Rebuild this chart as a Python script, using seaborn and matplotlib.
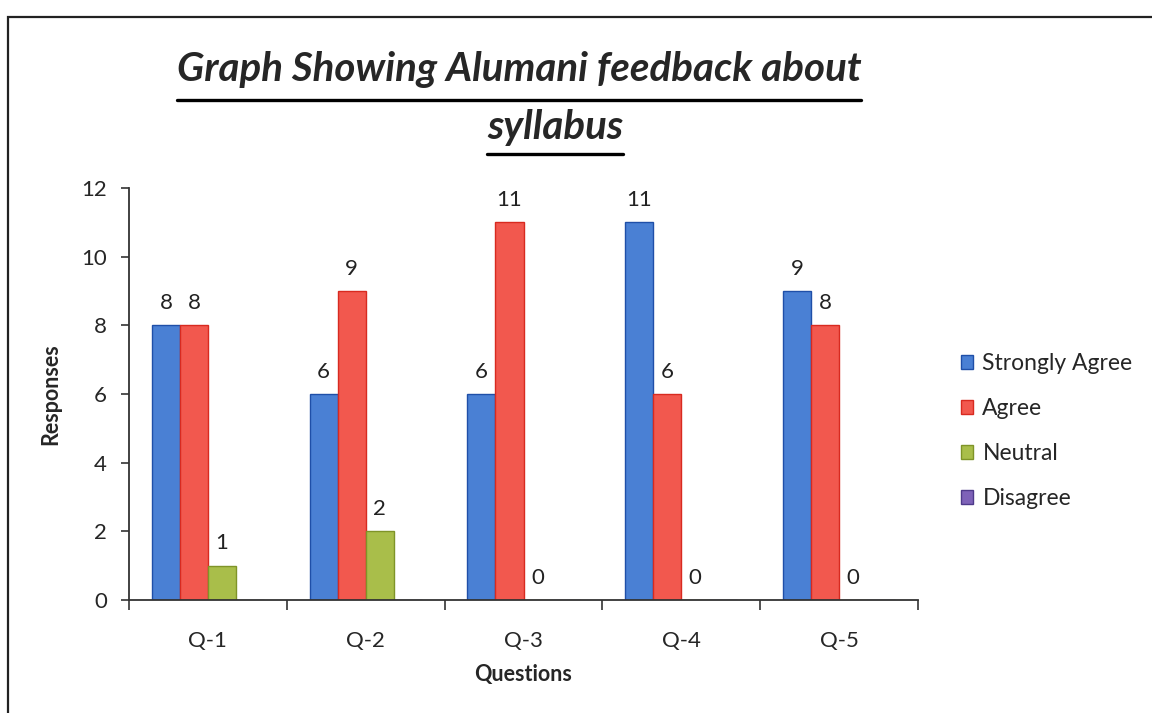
import pandas as pd
import matplotlib.pyplot as plt
import matplotlib.patches as mpatches
from matplotlib.lines import Line2D
import seaborn as sns

questions = ["Q-1", "Q-2", "Q-3", "Q-4", "Q-5"]
strongly_agree = [8, 6, 6, 11, 9]
agree = [8, 9, 11, 6, 8]
neutral = [1, 2, 0, 0, 0]
disagree = [0, 0, 0, 0, 0]

series = ["Strongly Agree", "Agree", "Neutral", "Disagree"]
colors = ["#4A80D4", "#F2584E", "#A9BE4A", "#7E62B8"]
edges = ["#1F4FA8", "#D82A20", "#7F9428", "#4E3A8A"]

rows = []
for name, vals in zip(series, [strongly_agree, agree, neutral, disagree]):
    for q, v in zip(questions, vals):
        rows.append({"Question": q, "Response": name, "Responses": v})
df = pd.DataFrame(rows)

sns.set_style("white")
plt.rcParams["font.family"] = ["Lato", "DejaVu Sans"]

fig = plt.figure(figsize=(11.52, 7.13), dpi=100)
ax = fig.add_axes([129 / 1152, 1 - 600 / 713, (918 - 129) / 1152, (600 - 188) / 713])

sns.barplot(data=df, x="Question", y="Responses", hue="Response",
            palette=colors, width=0.71, ax=ax, saturation=1, legend=False)

for cont, ec in zip(ax.containers, edges):
    for bar in cont:
        bar.set_edgecolor(ec)
        bar.set_linewidth(1.0)

for cont in ax.containers[:3]:
    ax.bar_label(cont, fmt="%d", padding=9, fontsize=16, color="#222222")

ax.set_ylim(0, 12)
ax.set_yticks(range(0, 13, 2))
ax.set_xlim(-0.5, 4.5)
ax.set_xticks(range(5), questions)
ax.set_xticks([i - 0.5 for i in range(6)], minor=True)
ax.tick_params(axis="x", which="major", length=0, pad=22, labelsize=16)
ax.tick_params(axis="x", which="minor", length=7, width=1.2, direction="out", color="#333333")
ax.tick_params(axis="y", length=6, width=1.2, direction="out", color="#333333", labelsize=16, pad=10)
ax.yaxis.set_ticks_position("left")
ax.xaxis.set_ticks_position("bottom")
sns.despine(ax=ax)
for s in ["left", "bottom"]:
    ax.spines[s].set_color("#333333")
    ax.spines[s].set_linewidth(1.3)

ax.set_xlabel("Questions", fontsize=15.5, fontweight="bold", labelpad=10)
ax.set_ylabel("Responses", fontsize=15.5, fontweight="bold", labelpad=14)

handles = [mpatches.Patch(facecolor=c, edgecolor=e, label=n) for n, c, e in zip(series, colors, edges)]
fig.legend(handles=handles, loc="center left", bbox_to_anchor=(940 / 1152, 1 - 431 / 713),
           frameon=False, fontsize=16.5, handlelength=0.55, handleheight=0.55,
           handletextpad=0.4, labelspacing=1.05)

# title with underline
t1 = fig.text(519 / 1152, 1 - 70 / 713, "Graph Showing Alumani feedback about",
              ha="center", va="center", fontsize=29, fontweight="bold", style="italic")
t2 = fig.text(555 / 1152, 1 - 127 / 713, "syllabus",
              ha="center", va="center", fontsize=29, fontweight="bold", style="italic")
fig.canvas.draw()
r = fig.canvas.get_renderer()
for t, uy in [(t1, 100), (t2, 154)]:
    bb = t.get_window_extent(r)
    y = 1 - uy / 713
    fig.add_artist(Line2D([bb.x0 / 1152, bb.x1 / 1152], [y, y], color="black", lw=2.4))

# outer chart border
fig.add_artist(mpatches.Rectangle((8 / 1152, -0.05), 1.2, 1.05 - 17 / 713, fill=False,
                                  edgecolor="#222222", lw=1.6, transform=fig.transFigure))

fig.savefig("out.png", dpi=100)
